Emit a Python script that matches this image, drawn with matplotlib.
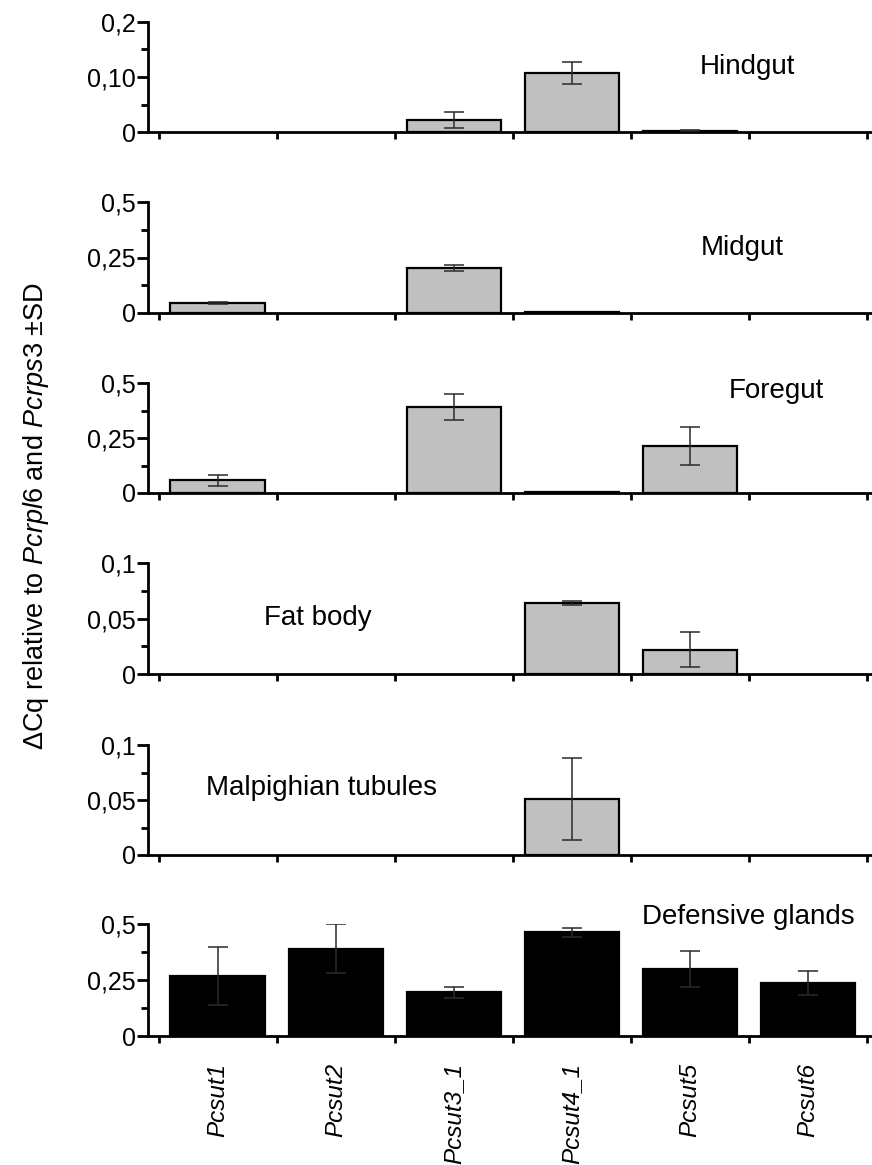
import matplotlib
matplotlib.use("Agg")
import matplotlib.pyplot as plt
import numpy as np
from matplotlib.ticker import FixedLocator, MultipleLocator

plt.rcParams['font.family'] = ['Liberation Sans', 'DejaVu Sans']
plt.rcParams['mathtext.fontset'] = 'custom'
plt.rcParams['mathtext.rm'] = 'Liberation Sans'
plt.rcParams['mathtext.it'] = 'Liberation Sans:italic'

genes = ["Pcsut1", "Pcsut2", "Pcsut3_1", "Pcsut4_1", "Pcsut5", "Pcsut6"]
tissues = ["Hindgut", "Midgut", "Foregut", "Fat body", "Malpighian tubules", "Defensive glands"]

hindgut = [0, 0, 0.022, 0.107, 0.002, 0]
hindgut_sd = [0, 0, 0.014, 0.020, 0.0008, 0]
midgut = [0.045, 0, 0.203, 0.003, 0, 0]
midgut_sd = [0.006, 0, 0.015, 0.0, 0, 0]
foregut = [0.057, 0, 0.392, 0.005, 0.212, 0]
foregut_sd = [0.024, 0, 0.059, 0.0, 0.086, 0]
fatbody = [0, 0, 0, 0.064, 0.022, 0]
fatbody_sd = [0, 0, 0, 0.002, 0.016, 0]
malpighian = [0, 0, 0, 0.051, 0, 0]
malpighian_sd = [0, 0, 0, 0.037, 0, 0]
defensive = [0.268, 0.39, 0.195, 0.464, 0.30, 0.237]
defensive_sd = [0.13, 0.11, 0.025, 0.02, 0.08, 0.055]

values = [hindgut, midgut, foregut, fatbody, malpighian, defensive]
errors = [hindgut_sd, midgut_sd, foregut_sd, fatbody_sd, malpighian_sd, defensive_sd]
ymax = [0.2, 0.5, 0.5, 0.1, 0.1, 0.5]
yticks = [[0, 0.10, 0.2], [0, 0.25, 0.5], [0, 0.25, 0.5], [0, 0.05, 0.1], [0, 0.05, 0.1], [0, 0.25, 0.5]]
ylabels = [["0", "0,10", "0,2"], ["0", "0,25", "0,5"], ["0", "0,25", "0,5"],
           ["0", "0,05", "0,1"], ["0", "0,05", "0,1"], ["0", "0,25", "0,5"]]
# where each tissue name sits (data x of left edge, data y of baseline)
label_pos = [(4.08, 0.105), (4.09, 0.261), (4.33, 0.432), (0.39, 0.044), (-0.10, 0.0545), (3.59, 0.502)]

W, H = 872, 1165
fig = plt.figure(figsize=(W / 100, H / 100), dpi=100)
tops = [22, 202, 383, 563, 745, 924]
bottoms = [132, 313, 493, 674, 855, 1036]
left, right = 148, 872

x = np.arange(len(genes))
for i in range(6):
    ax = fig.add_axes([left / W, 1 - bottoms[i] / H, (right - left) / W, (bottoms[i] - tops[i]) / H])
    color = 'black' if i == 5 else '#c0c0c0'
    v = np.array(values[i])
    e = np.array(errors[i])
    nz = v > 0
    ax.bar(x[nz], v[nz], width=0.8, color=color, edgecolor='black', linewidth=1.6, zorder=2)
    m = e > 0
    ax.errorbar(x[m], v[m], yerr=e[m], fmt='none', ecolor='#2a2a2a', elinewidth=1.1,
                capsize=7, capthick=1.1, zorder=3)
    ax.set_xlim(-0.59, 5.54)
    ax.set_ylim(0, ymax[i])
    ax.spines['top'].set_visible(False)
    ax.spines['right'].set_visible(False)
    ax.spines['left'].set_linewidth(2)
    ax.spines['bottom'].set_linewidth(2)
    ax.set_yticks(yticks[i])
    ax.set_yticklabels(ylabels[i], fontsize=18)
    ax.yaxis.set_minor_locator(MultipleLocator(yticks[i][1] / 2))
    ax.tick_params(axis='y', which='major', length=8, width=2, pad=1)
    ax.tick_params(axis='y', which='minor', length=5, width=2)
    ax.xaxis.set_major_locator(FixedLocator(np.arange(-0.5, 6.0, 1.0)))
    ax.tick_params(axis='x', which='major', length=5, width=2)
    ax.xaxis.set_minor_locator(FixedLocator(x))
    ax.tick_params(axis='x', which='minor', length=0)
    ax.set_xticklabels([])
    if i == 5:
        ax.set_xticklabels(genes, minor=True, rotation=90, fontsize=17.5, style='italic',
                           va='top', ha='center')
        ax.tick_params(axis='x', which='minor', pad=19)
    ax.text(label_pos[i][0], label_pos[i][1], tissues[i], fontsize=20, ha='left', va='baseline')

fig.text(36 / W, 1 - 516 / H,
         r"ΔCq relative to $\mathit{Pcrpl6}$ and $\mathit{Pcrps3}$ ±SD",
         rotation=90, fontsize=19.5, ha='center', va='center')

fig.savefig("out.png", dpi=100)
